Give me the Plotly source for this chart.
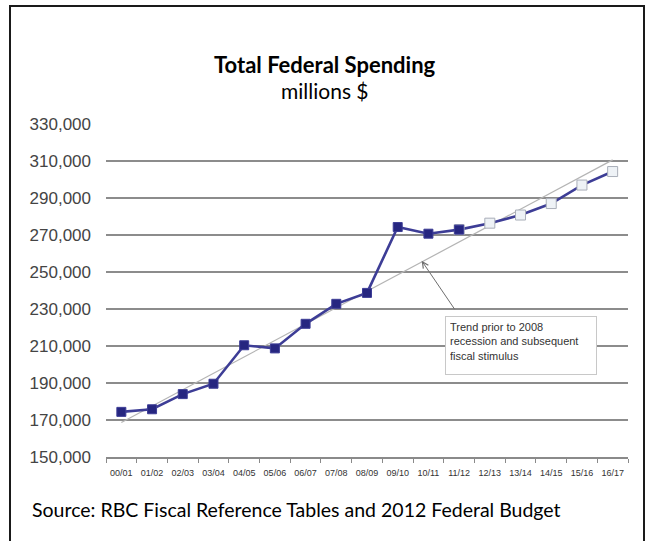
import plotly.graph_objects as go

# Fiscal years and total federal spending (millions $)
years = ["00/01", "01/02", "02/03", "03/04", "04/05", "05/06", "06/07", "07/08", "08/09",
         "09/10", "10/11", "11/12", "12/13", "13/14", "14/15", "15/16", "16/17"]
actual_years = years[:12]
actual_spending = [174400, 175800, 184000, 189600, 210400, 208700, 222000, 232800, 238700,
                   274300, 270700, 272900]
projected_years = years[11:]
projected_spending = [272900, 276400, 280800, 287000, 297000, 304300]

# Pre-2008 trend line, first and last fiscal year
trend_years = [years[0], years[-1]]
trend_values = [168600, 310600]

y_ticks = [150000, 170000, 190000, 210000, 230000, 250000, 270000, 290000, 310000, 330000]

W, H = 650, 541
ML, MR, MT, MB = 106, 22, 124, 84
PW, PH = W - ML - MR, H - MT - MB


def px(x):
    return (x - ML) / PW


def py(y):
    return 1 - (y - MT) / PH


LINE = "#3d3d96"
fig = go.Figure()

fig.add_trace(go.Scatter(
    x=trend_years, y=trend_values, mode="lines",
    line=dict(color="#b4b4b4", width=1.2), hoverinfo="skip", showlegend=False))

fig.add_trace(go.Scatter(
    x=projected_years, y=projected_spending, mode="lines+markers",
    line=dict(color=LINE, width=2.6),
    marker=dict(symbol="square", size=10, color="#eef2f6",
                line=dict(color="#a9aeb8", width=1)),
    showlegend=False))

fig.add_trace(go.Scatter(
    x=actual_years, y=actual_spending, mode="lines+markers",
    line=dict(color=LINE, width=2.6),
    marker=dict(symbol="square", size=9, color="#262680",
                line=dict(color="#3d3d96", width=1)),
    showlegend=False))

annotations = [
    dict(text="<b>Total Federal Spending</b>", x=px(325), y=py(64), xref="paper", yref="paper",
         showarrow=False, font=dict(family="Lato", size=22, color="#000000"),
         xanchor="center", yanchor="middle"),
    dict(text="millions $", x=px(325), y=py(90), xref="paper", yref="paper",
         showarrow=False, font=dict(family="Lato", size=21, color="#000000"),
         xanchor="center", yanchor="middle"),
    dict(text="Source: RBC Fiscal Reference Tables and 2012 Federal Budget",
         x=px(30), y=py(509), xref="paper", yref="paper", showarrow=False,
         font=dict(family="Lato", size=19.5, color="#000000"),
         xanchor="left", yanchor="middle"),
    # arrow pointing at the trend line
    dict(text="", x=9.78, y=256100, xref="x", yref="y", showarrow=True,
         ax=34, ay=50, arrowhead=5, arrowsize=1.2, arrowwidth=1, arrowcolor="#6e6e6e"),
    dict(text="Trend prior to 2008<br>recession and subsequent<br>fiscal stimulus",
         x=px(445), y=py(316), xref="paper", yref="paper", showarrow=False,
         xanchor="left", yanchor="top", align="left", width=142, height=49,
         valign="top", borderpad=4, bgcolor="#ffffff", bordercolor="#c8c8c8",
         borderwidth=1, font=dict(family="Liberation Sans", size=11, color="#333333")),
]

shapes = [
    dict(type="rect", xref="paper", yref="paper",
         x0=px(10), x1=px(644), y0=py(560), y1=py(6),
         line=dict(color="#1a1a1a", width=2), fillcolor="rgba(0,0,0,0)", layer="below"),
]

fig.update_layout(
    width=W, height=H,
    margin=dict(l=ML, r=MR, t=MT, b=MB),
    paper_bgcolor="#ffffff", plot_bgcolor="#ffffff",
    showlegend=False,
    annotations=annotations,
    shapes=shapes,
    xaxis=dict(
        type="category", categoryorder="array", categoryarray=years,
        range=[-0.5, len(years) - 0.5],
        showgrid=False, zeroline=False,
        showline=True, linecolor="#8a8a8a", linewidth=1.5,
        ticks="outside", ticklen=4, tickwidth=1, tickcolor="#8a8a8a",
        tickson="boundaries", tickangle=0,
        tickfont=dict(family="Liberation Sans", size=9, color="#333333"),
        ticklabelstandoff=6,
        fixedrange=True,
    ),
    yaxis=dict(
        range=[150000, 330000],
        tickvals=y_ticks, tickformat=",d",
        showgrid=True, gridcolor="#8c8c8c", gridwidth=1.6,
        zeroline=False, showline=False, ticks="",
        tickfont=dict(family="Liberation Sans", size=17, color="#444444"),
        ticklabelstandoff=14,
        fixedrange=True,
    ),
)

fig.write_html("out.html")
